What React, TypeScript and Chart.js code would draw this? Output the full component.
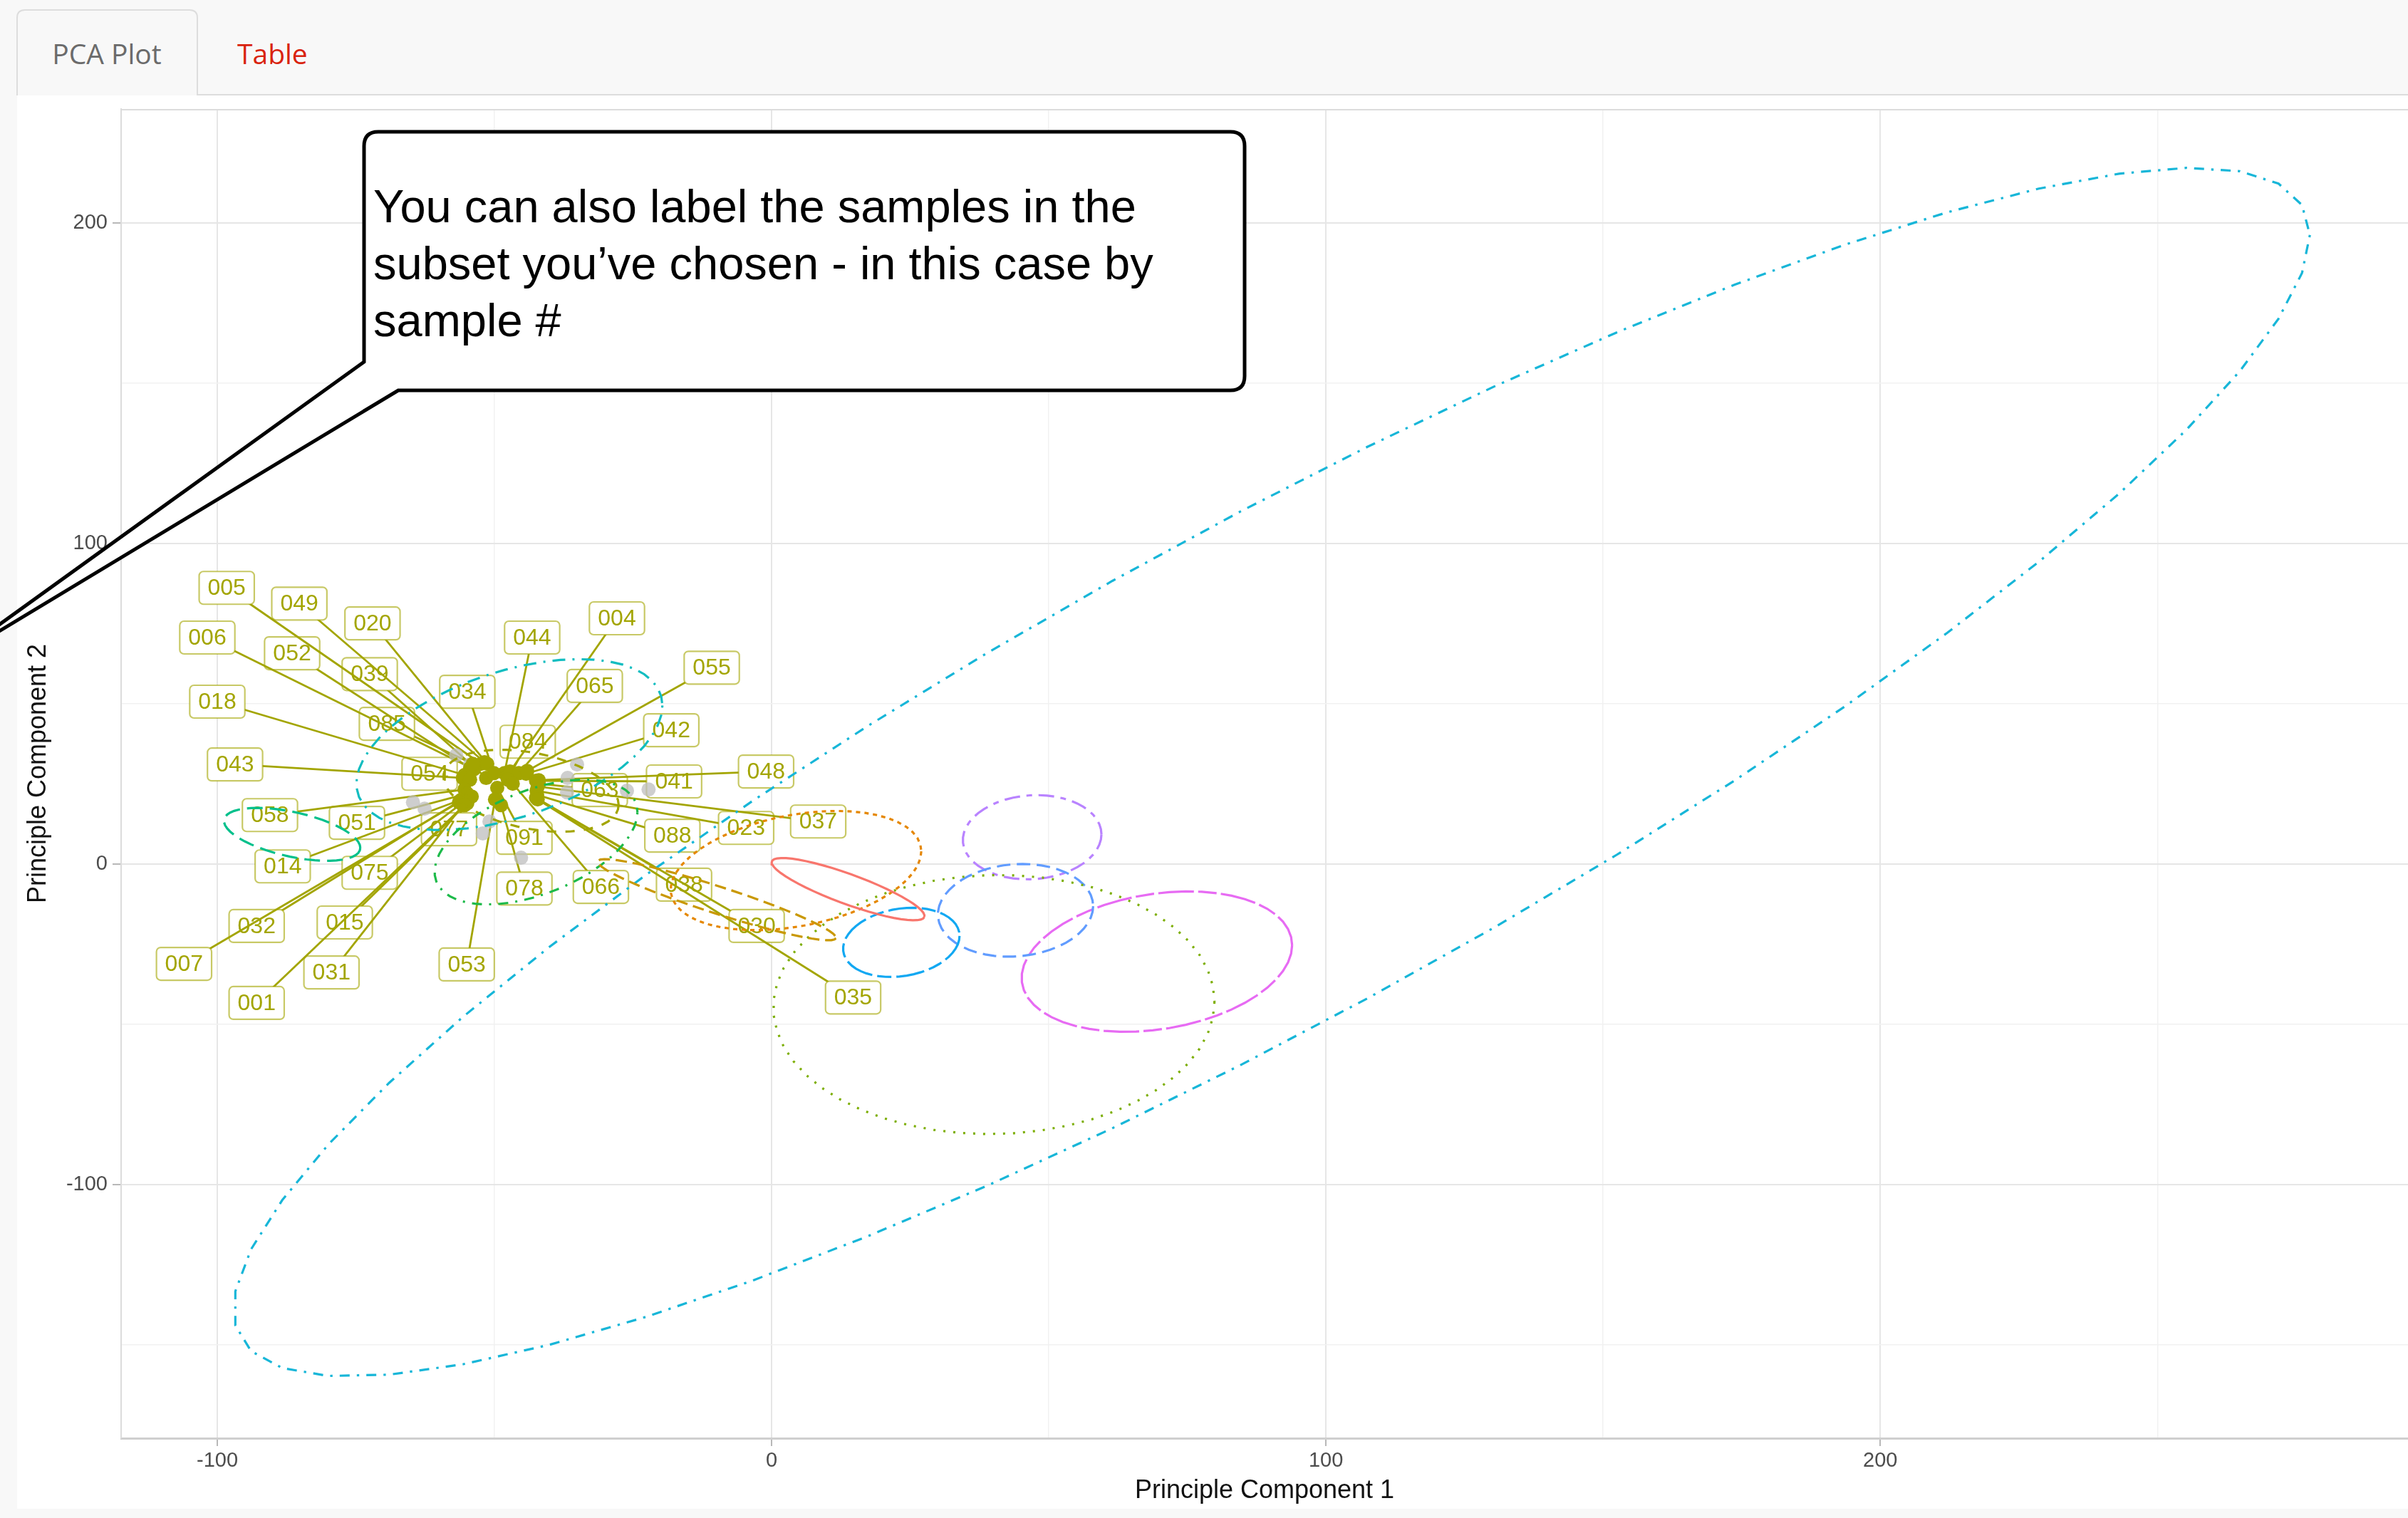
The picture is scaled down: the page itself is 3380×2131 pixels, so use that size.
import React, { useEffect, useRef } from "react";
import { Chart, registerables } from "chart.js";

Chart.register(...registerables);

const FONT = "'Liberation Sans', Arial, Helvetica, sans-serif";
const OLIVE = "#A3A500";

// Axis ranges (data units)
const X_MIN = -117.35;
const X_MAX = 295.2;
const Y_MIN = -179.1;
const Y_MAX = 235.6;

// Labelled samples of the chosen subset
const sampleIds = ["005", "049", "020", "006", "052", "039", "044", "004", "034", "065", "018", "085", "084", "042", "043", "054", "041", "063", "058", "051", "077", "091", "088", "014", "075", "078", "066", "038", "032", "015", "007", "031", "053", "001", "055", "048", "037", "023", "030", "035"];
const sampleX = [-52.4, -51.8, -51.3, -53.7, -54.4, -51.5, -48.2, -47.2, -50.1, -45.6, -55.4, -53.9, -47.6, -44.3, -55.7, -54.4, -42.5, -42.0, -55.4, -54.9, -54.1, -49.5, -42.3, -55.9, -55.4, -48.8, -46.7, -42.3, -56.2, -54.9, -56.4, -55.7, -49.9, -55.4, -44.1, -42.0, -42.2, -42.4, -42.5, -42.2];
const sampleY = [31.3, 31.8, 31.3, 29.6, 30.0, 26.9, 28.4, 28.9, 28.4, 28.4, 27.8, 31.3, 26.4, 28.2, 26.9, 26.4, 26.0, 25.1, 23.3, 22.0, 21.1, 23.8, 21.6, 20.2, 19.6, 18.4, 25.1, 20.4, 19.8, 19.0, 19.3, 18.4, 20.2, 18.4, 29.1, 26.2, 24.2, 22.9, 20.7, 20.2];
// Repelled label anchor positions
const labelX = [-98.3, -85.2, -72.0, -101.8, -86.5, -72.5, -43.2, -27.9, -54.9, -31.9, -100.0, -69.4, -44.0, -18.1, -96.8, -61.7, -17.6, -31.0, -90.5, -74.8, -58.2, -44.6, -17.9, -88.2, -72.5, -44.6, -30.8, -15.8, -92.9, -77.0, -106.0, -79.4, -55.0, -92.9, -10.8, -1.0, 8.4, -4.6, -2.7, 14.7];
const labelY = [86.2, 81.3, 75.1, 70.7, 65.8, 59.3, 70.7, 76.7, 53.8, 55.6, 50.7, 43.8, 38.2, 41.8, 31.1, 28.2, 25.8, 23.1, 15.3, 12.9, 10.9, 8.2, 8.9, -0.7, -2.7, -7.6, -7.1, -6.4, -19.3, -18.2, -31.1, -33.8, -31.3, -43.3, 61.3, 28.9, 13.3, 11.3, -19.3, -41.6];

// Remaining samples outside the subset
const otherX = [-35.1, -36.8, -36.9, -64.7, -62.6, -50.9, -52.1, -45.2, -26.1, -22.2, -54.4, -56.9];
const otherY = [31.1, 26.9, 22.4, 19.3, 17.3, 13.3, 9.6, 2.0, 22.9, 23.3, 31.1, 34.0];

// Group confidence ellipses: centre and conjugate half-axes (data units)
const ellipseCx = [13.8, 4.4, -9.9, 40.1, -42.5, -86.5, -47.3, -43.4, 90.2, 23.4, 44.0, 47.0, 69.5];
const ellipseCy = [-7.8, -2.0, -11.1, -43.8, 6.9, 9.3, 37.3, 22.9, 28.7, -24.4, -14.4, 8.4, -30.4];
const ellipseUx = [13.75, 22.6, 21.5, 39.8, 18.3, 12.3, 27.6, 15.8, 187.3, 10.5, 14.0, 12.5, 24.4];
const ellipseUy = [-8.67, 6.0, -12.0, 0.9, 9.3, -4.2, 12.2, -4.4, 167.6, 2.0, 1.3, 0.9, 5.1];
const ellipseVx = [-0.93, 0, -0.76, 0, 0, 0, 0, 0, 0, 0, 0, 0, 0];
const ellipseVy = [-4.38, -17.6, -4.0, -40.4, -17.1, -7.1, -23.7, -12.0, -86.4, -10.6, -14.4, -13.1, -21.3];

// Stroke styles per group
const ellipseColors = ["#F8766D", "#E58700", "#C99800", "#7CAE00", "#1DBA4A", "#00C08B", "#12BDC0", OLIVE, "#17B6D8", "#12A8F2", "#619CFF", "#B983FF", "#E76BF3"];
const ellipseDashes: number[][] = [
  [],
  [6, 6],
  [16, 8],
  [3, 11],
  [3, 10, 14, 10],
  [22, 10],
  [3, 10, 18, 10],
  [13, 13],
  [3.4, 10, 14, 10],
  [40, 7, 20, 7],
  [19, 9],
  [22, 9, 8, 9],
  [50, 6, 26, 6],
];

const ELLIPSE_SEGMENTS = 51;

function ellipseOutline(i: number) {
  const pts: { x: number; y: number }[] = [];
  for (let k = 0; k <= ELLIPSE_SEGMENTS; k++) {
    const t = (2 * Math.PI * k) / ELLIPSE_SEGMENTS;
    pts.push({
      x: ellipseCx[i] + ellipseUx[i] * Math.cos(t) + ellipseVx[i] * Math.sin(t),
      y: ellipseCy[i] + ellipseUy[i] * Math.cos(t) + ellipseVy[i] * Math.sin(t),
    });
  }
  return pts;
}

function roundedRect(ctx: CanvasRenderingContext2D, x: number, y: number, w: number, h: number, r: number) {
  ctx.beginPath();
  ctx.moveTo(x + r, y);
  ctx.lineTo(x + w - r, y);
  ctx.arcTo(x + w, y, x + w, y + r, r);
  ctx.lineTo(x + w, y + h - r);
  ctx.arcTo(x + w, y + h, x + w - r, y + h, r);
  ctx.lineTo(x + r, y + h);
  ctx.arcTo(x, y + h, x, y + h - r, r);
  ctx.lineTo(x, y + r);
  ctx.arcTo(x, y, x + r, y, r);
  ctx.closePath();
}

// Panel top border plus repelled sample labels with leader segments
const sampleLabelPlugin = {
  id: "sampleLabels",
  beforeDatasetsDraw(chart: any) {
    const { ctx, chartArea, scales } = chart;
    const xs = scales.x;
    const ys = scales.y;
    ctx.save();
    ctx.strokeStyle = "#dcdcdc";
    ctx.lineWidth = 2;
    ctx.beginPath();
    ctx.moveTo(chartArea.left, chartArea.top + 1);
    ctx.lineTo(chartArea.right, chartArea.top + 1);
    ctx.stroke();

    const seg = sampleIds.map((_, i) => {
      const px = xs.getPixelForValue(sampleX[i]);
      const py = ys.getPixelForValue(sampleY[i]);
      const lx = xs.getPixelForValue(labelX[i]);
      const ly = ys.getPixelForValue(labelY[i]);
      return { i, px, py, lx, ly, d: Math.hypot(lx - px, ly - py) };
    });
    seg.sort((a, b) => a.d - b.d);

    ctx.font = `32px ${FONT}`;
    ctx.textAlign = "center";
    ctx.textBaseline = "middle";
    for (const s of seg) {
      ctx.strokeStyle = OLIVE;
      ctx.lineWidth = 2.8;
      ctx.beginPath();
      ctx.moveTo(s.px, s.py);
      ctx.lineTo(s.lx, s.ly);
      ctx.stroke();

      const tw = ctx.measureText(sampleIds[s.i]).width;
      const w = tw + 24;
      const h = 46;
      roundedRect(ctx, s.lx - w / 2, s.ly - h / 2, w, h, 6);
      ctx.fillStyle = "#ffffff";
      ctx.fill();
      ctx.strokeStyle = "rgba(163,165,0,0.6)";
      ctx.lineWidth = 2.2;
      ctx.stroke();
      ctx.fillStyle = OLIVE;
      ctx.fillText(sampleIds[s.i], s.lx, s.ly + 1);
    }
    ctx.restore();
  },
};

const isMajor = (ctx: any) => ctx.tick && Math.abs(ctx.tick.value % 100) < 1e-6;

function PcaChart() {
  const ref = useRef<HTMLCanvasElement | null>(null);

  useEffect(() => {
    if (!ref.current) return;
    const ellipseSets = ellipseCx.map((_, i) => ({
      type: "scatter" as const,
      label: `group ${i + 1}`,
      data: ellipseOutline(i),
      showLine: true,
      pointRadius: 0,
      pointHoverRadius: 0,
      borderColor: ellipseColors[i],
      backgroundColor: ellipseColors[i],
      borderWidth: 3.2,
      borderDash: ellipseDashes[i],
      borderCapStyle: "butt" as const,
      fill: false,
      tension: 0,
      order: 0,
    }));

    const chart = new Chart(ref.current, {
      type: "scatter",
      data: {
        datasets: [
          ...ellipseSets,
          {
            label: "subset",
            data: sampleX.map((x, i) => ({ x, y: sampleY[i] })),
            pointRadius: 10,
            pointBackgroundColor: OLIVE,
            pointBorderWidth: 0,
            backgroundColor: OLIVE,
            borderColor: OLIVE,
            order: 1,
          },
          {
            label: "other",
            data: otherX.map((x, i) => ({ x, y: otherY[i] })),
            pointRadius: 10,
            pointBackgroundColor: "rgba(190,190,190,0.75)",
            pointBorderWidth: 0,
            backgroundColor: "rgba(190,190,190,0.75)",
            borderColor: "rgba(190,190,190,0.75)",
            order: 2,
          },
        ],
      },
      options: {
        responsive: false,
        animation: false,
        devicePixelRatio: 1,
        events: [],
        layout: { autoPadding: false, padding: { top: 13, right: 0, bottom: 0, left: 0 } },
        plugins: { legend: { display: false }, tooltip: { enabled: false } },
        scales: {
          x: {
            type: "linear",
            min: X_MIN,
            max: X_MAX,
            afterFit: (s: any) => {
              s.height = 100;
              s.paddingLeft = 0;
              s.paddingRight = 0;
            },
            ticks: {
              stepSize: 50,
              includeBounds: false,
              autoSkip: false,
              maxRotation: 0,
              padding: 4,
              color: "#4d4d4d",
              font: { family: FONT, size: 29 },
              callback: (v: any) => (Math.abs(Number(v) % 100) < 1e-6 ? String(v) : ""),
            },
            grid: {
              color: (c: any) => (isMajor(c) ? "#e6e6e6" : "#f1f1f1"),
              lineWidth: (c: any) => (isMajor(c) ? 2 : 1.5),
              tickLength: 11,
              tickColor: (c: any) => (isMajor(c) ? "#b8b8b8" : "rgba(0,0,0,0)"),
              tickWidth: 2,
            },
            border: { color: "#cfcfcf", width: 3 },
            title: {
              display: true,
              text: "Principle Component 1",
              color: "#111111",
              font: { family: FONT, size: 36 },
              padding: { top: 0, bottom: 4 },
            },
          },
          y: {
            type: "linear",
            min: Y_MIN,
            max: Y_MAX,
            afterFit: (s: any) => {
              s.width = 170;
              s.paddingTop = 0;
              s.paddingBottom = 0;
            },
            ticks: {
              stepSize: 50,
              includeBounds: false,
              autoSkip: false,
              padding: 7,
              color: "#4d4d4d",
              font: { family: FONT, size: 29 },
              callback: (v: any) => (Math.abs(Number(v) % 100) < 1e-6 ? String(v) : ""),
            },
            grid: {
              color: (c: any) => (isMajor(c) ? "#e6e6e6" : "#f1f1f1"),
              lineWidth: (c: any) => (isMajor(c) ? 2 : 1.5),
              tickLength: 12,
              tickColor: (c: any) => (isMajor(c) ? "#b8b8b8" : "rgba(0,0,0,0)"),
              tickWidth: 2,
            },
            border: { color: "#dcdcdc", width: 2 },
            title: {
              display: true,
              text: "Principle Component 2",
              color: "#111111",
              font: { family: FONT, size: 36 },
              padding: { top: 32, bottom: 0 },
            },
          },
        },
      } as any,
      plugins: [sampleLabelPlugin],
    });
    return () => chart.destroy();
  }, []);

  return (
    <canvas
      ref={ref}
      width={3380}
      height={1979}
      style={{ position: "absolute", left: 0, top: 140, width: 3380, height: 1979 }}
    />
  );
}

export default function App() {
  return (
    <div
      style={{
        position: "fixed",
        left: 0,
        top: 0,
        width: 3380,
        height: 2131,
        overflow: "hidden",
        background: "#f8f8f8",
      }}
    >
      <svg width={3380} height={2131} style={{ position: "absolute", left: 0, top: 0 }}>
        <rect x={24} y={134} width={3356} height={1984} fill="#ffffff" />
        <line x1={277} y1={133} x2={3380} y2={133} stroke="#dddddd" strokeWidth={2} />
        <path
          d="M24 134 L24 25 Q24 14 35 14 L266 14 Q277 14 277 25 L277 134"
          fill="#f8f8f8"
          stroke="#dddddd"
          strokeWidth={2}
        />
        <text x={150} y={90} textAnchor="middle" fontFamily="'Open Sans', sans-serif" fontSize={39} fill="#6b6b6b">
          PCA Plot
        </text>
        <text x={333} y={90} fontFamily="'Open Sans', sans-serif" fontSize={39} fill="#d9230f">
          Table
        </text>
      </svg>
      <PcaChart />
      <svg width={3380} height={2131} style={{ position: "absolute", left: 0, top: 0, pointerEvents: "none" }}>
        <path
          d="M511 508 L511 205 Q511 185 531 185 L1727 185 Q1747 185 1747 205 L1747 528 Q1747 548 1727 548 L559 548 L-79 933 Z"
          fill="#ffffff"
          stroke="#000000"
          strokeWidth={5}
          strokeLinejoin="miter"
        />
        <text fontFamily={FONT} fontSize={65} fill="#000000">
          <tspan x={524} y={312}>You can also label the samples in the</tspan>
          <tspan x={524} y={392}>subset you’ve chosen - in this case by</tspan>
          <tspan x={524} y={472}>sample #</tspan>
        </text>
      </svg>
    </div>
  );
}
